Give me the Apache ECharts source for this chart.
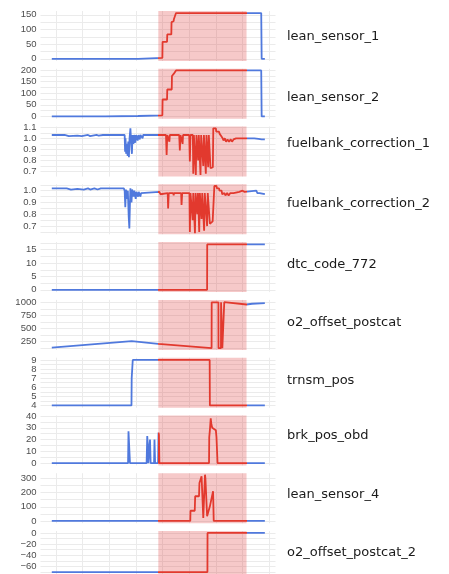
<!DOCTYPE html>
<html>
<head>
<meta charset="utf-8">
<script src="https://cdn.jsdelivr.net/npm/echarts@6/dist/echarts.min.js"></script>
<style>
  html, body { margin: 0; padding: 0; background: #fff; }
  #main { width: 449px; height: 574px; }
</style>
</head>
<body>
<div id="main"></div>
<script>
// sensor traces, x in time units, window of interest 48 - 89.4
var names = ['lean_sensor_1', 'lean_sensor_2', 'fuelbank_correction_1', 'fuelbank_correction_2',
  'dtc_code_772', 'o2_offset_postcat', 'trnsm_pos', 'brk_pos_obd', 'lean_sensor_4', 'o2_offset_postcat_2'];

var windowRange = [48, 89.4];
var xGridTicks = [0, 12.5, 25, 37.5, 50, 62.5, 75, 87.5, 100];

var leanSensor1 = [[-2,0],[38.5,0],[38.6,3],[49.9,3],[50,58],[52.1,58],[52.2,83],[54.1,83],[54.2,125],[55.2,128],[55.3,135],[56.2,135],[56.3,156],[96.3,156],[96.5,0],[98,0]];
var leanSensor2 = [[-2,0],[23,0],[23.1,2],[38.5,2],[38.6,5],[49.9,5],[50,73],[52.1,73],[52.2,116],[54.3,116],[54.4,174],[55.2,176],[55.3,184],[56.2,184],[56.3,198],[96.3,198],[96.5,0],[98,0]];
var fuelbank1 = [[-2,1.03],[4,1.03],[6,1.02],[10,1.025],[12,1.02],[15,1.03],[16,1.02],[19,1.03],[20,1.025],[22,1.03],[32.2,1.03],
  [32.4,0.88],[32.6,1.0],[32.9,0.86],[33.2,0.95],[33.6,0.84],[33.9,0.97],[34.2,0.83],[34.5,1.0],[34.9,1.09],[35.2,0.98],[35.6,0.86],[35.9,1.03],
  [36.3,0.95],[36.6,1.03],[37.2,0.96],[37.5,1.03],[38.3,0.98],[38.6,1.03],[39.3,0.99],[39.6,1.03],[40.6,1.0],[40.9,1.03],[49,1.03],[49.3,1.02],
  [50,1.03],[51.6,1.03],[51.9,0.85],[52.2,1.03],[53,1.03],[53.2,0.97],[53.4,1.03],[57.8,1.03],[58.1,0.89],[58.4,1.03],[59.2,1.03],[59.4,0.95],
  [59.6,1.03],[62.5,1.03],[62.8,0.79],[63.1,1.03],[64.2,1.03],[64.4,0.68],[64.7,1.03],[65.4,1.03],[65.6,0.67],[65.9,1.03],[66.5,1.03],[66.7,0.8],
  [67,1.03],[67.6,1.03],[67.8,0.67],[68.1,1.03],[68.9,1.03],[69.1,0.75],[69.4,1.03],[70.1,1.03],[70.3,0.68],[70.6,1.03],[71.2,1.03],[71.4,0.74],
  [71.7,1.03],[72.3,1.03],[72.5,0.73],[73.6,0.74],[73.8,1.09],[75,1.09],[75.2,1.06],[76.5,1.06],[76.8,1.04],[77.5,1.02],[78.2,1.0],[78.6,0.98],
  [79.2,1.0],[79.8,0.97],[80.5,0.99],[81.2,0.97],[82,0.99],[82.6,0.97],[83.3,0.99],[84.5,1.0],[93,1.0],[95,0.995],[96.5,0.99],[98,0.99]];
var fuelbank2 = [[-2,1.02],[5,1.02],[7,1.01],[10,1.015],[13,1.01],[15,1.02],[16,1.01],[18,1.02],[19.5,1.01],[21,1.02],[31.8,1.02],
  [32.2,1.0],[32.5,0.86],[32.8,1.01],[33.3,0.93],[33.7,1.0],[34.1,0.78],[34.4,0.68],[34.7,0.9],[34.9,1.02],[35.4,0.9],[35.7,1.01],[36.4,0.95],
  [36.7,1.0],[37.4,0.93],[37.7,0.99],[38.5,0.95],[38.8,0.99],[39.6,0.95],[39.9,0.98],[48.5,0.99],[49,0.97],[49.5,0.98],[52.4,0.98],[52.6,0.85],
  [52.9,0.98],[55,0.98],[55.2,0.96],[55.4,0.98],[58.7,0.98],[58.9,0.88],[59.2,0.98],[62.6,0.98],[62.8,0.65],[63.1,0.98],[63.9,0.98],[64.1,0.75],
  [64.4,0.98],[65,0.98],[65.2,0.64],[65.5,0.98],[66.1,0.98],[66.3,0.8],[66.6,0.98],[67,0.98],[67.2,0.65],[67.5,0.98],[68.1,0.98],[68.3,0.76],
  [68.6,0.98],[69.3,0.98],[69.5,0.66],[69.8,0.98],[70.7,0.98],[70.9,0.7],[71.2,0.98],[72,0.98],[72.2,0.72],[73.5,0.74],[74.3,1.04],[75.3,1.04],
  [75.5,1.02],[76.5,1.02],[76.7,1.0],[77.7,1.0],[78,0.97],[79,0.98],[79.5,0.96],[80.3,0.98],[81,0.96],[81.8,0.98],[82.5,0.97],[83.3,0.98],
  [84,0.99],[86,0.99],[87.5,1.0],[88.5,0.99],[94,1.0],[94.5,0.98],[95.5,0.98],[96,0.97],[98,0.97]];
var dtcCode772 = [[-2,0],[70.9,0],[70.95,17],[98,17]];
var o2OffsetPostcat = [[-2,130],[35.5,255],[48,205],[73,122],[73.05,1000],[76.2,1000],[76.25,122],[77.4,122],[77.45,1000],[78,1000],
  [78.05,122],[78.9,122],[78.95,1002],[80,1000],[89.4,958],[92,972],[98,985]];
var trnsmPos = [[-2,4],[35.4,4],[35.5,7],[35.9,7],[36,9],[72.1,9],[72.2,4],[98,4]];
var brkPosObd = [[-2,0],[33.8,0],[34,27],[34.5,26],[34.7,0],[42.5,0],[42.8,23],[43.1,15],[43.3,0],[43.9,0],[44.1,20],[44.4,0],[46,0],
  [46.2,20],[46.5,0],[47.9,0],[48.1,26],[48.3,24],[48.5,0],[71.8,0],[71.9,22],[72.2,28],[72.6,38],[72.9,33],[73.3,30],[74.2,29],[75,28],
  [75.3,22],[75.7,22],[75.8,0],[98,0]];
var leanSensor4 = [[-2,0],[63,0],[63.1,72],[65.1,72],[65.3,174],[67.1,174],[67.3,267],[68.1,270],[68.3,314],[69.1,21],[69.9,326],[70.1,300],
  [70.9,33],[72.2,103],[73.7,209],[74,0],[98,0]];
var o2OffsetPostcat2 = [[-2,-70],[71.05,-70],[71.1,0],[98,0]];

var seriesData = [leanSensor1, leanSensor2, fuelbank1, fuelbank2, dtcCode772, o2OffsetPostcat, trnsmPos, brkPosObd, leanSensor4, o2OffsetPostcat2];

var yMin = [-7.5, -10, 0.655, 0.63, -0.85, 88, 3.75, -1.93, -16, -73.5];
var yMax = [163, 205, 1.106, 1.054, 17.85, 1046, 9.25, 40.5, 336, 3.5];
var yLabels = [
  [0, 50, 100, 150],
  [0, 50, 100, 150, 200],
  [0.7, 0.8, 0.9, 1.0, 1.1],
  [0.7, 0.8, 0.9, 1.0],
  [0, 5, 10, 15],
  [250, 500, 750, 1000],
  [4, 5, 6, 7, 8, 9],
  [0, 10, 20, 30, 40],
  [0, 100, 200, 300],
  [-60, -40, -20, 0]
];
var yGrid = [
  [0, 25, 50, 75, 100, 125, 150],
  [0, 25, 50, 75, 100, 125, 150, 175, 200],
  [0.7, 0.75, 0.8, 0.85, 0.9, 0.95, 1.0, 1.05, 1.1],
  [0.65, 0.7, 0.75, 0.8, 0.85, 0.9, 0.95, 1.0, 1.05],
  [0, 2.5, 5, 7.5, 10, 12.5, 15, 17.5],
  [125, 250, 375, 500, 625, 750, 875, 1000],
  [4, 4.5, 5, 5.5, 6, 6.5, 7, 7.5, 8, 8.5, 9],
  [0, 5, 10, 15, 20, 25, 30, 35, 40],
  [0, 50, 100, 150, 200, 250, 300],
  [-70, -60, -50, -40, -30, -20, -10, 0]
];
var yDecimals = [0, 0, 1, 1, 0, 0, 0, 0, 0, 0];
// vertical centre of each right-hand label
var labelY = [37, 98, 144, 204, 265, 323, 381, 436, 495, 553];

var blue = '#5079dd';
var red = '#e2392e';

var chart = echarts.init(document.getElementById('main'));

var grids = [], xAxes = [], yAxes = [], series = [], texts = [];
var panelTop = 11, panelStep = 57.78, panelH = 50;

function yAxisFor(i, labels, withGrid) {
  return {
    type: 'value', gridIndex: i, min: yMin[i], max: yMax[i], position: 'left',
    axisLine: { show: false },
    axisTick: { show: false, customValues: withGrid ? yGrid[i] : labels },
    axisLabel: {
      customValues: labels,
      showMinLabel: true, showMaxLabel: true,
      color: '#4d4d4d', fontSize: 9.5, fontFamily: 'Liberation Sans', margin: 4,
      formatter: function (v) {
        return v.toFixed(yDecimals[i]).replace('-', '\u2212');
      }
    },
    splitLine: { show: withGrid, lineStyle: { color: '#ebebeb', width: 1 } }
  };
}

names.forEach(function (name, i) {
  var top = panelTop + panelStep * i;
  grids.push({ left: 40.5, width: 235, top: top, height: panelH });
  xAxes.push({
    type: 'value', gridIndex: i, min: -7.3, max: 103,
    axisLine: { show: false },
    axisTick: { show: false, customValues: xGridTicks },
    axisLabel: { show: false },
    splitLine: { show: true, lineStyle: { color: '#ebebeb', width: 1 } }
  });
  // labels split over two stacked axes so close ticks are not dropped
  var evenLabels = yLabels[i].filter(function (v, k) { return k % 2 === 0; });
  var oddLabels = yLabels[i].filter(function (v, k) { return k % 2 === 1; });
  yAxes.push(yAxisFor(i, evenLabels, true));
  yAxes.push(yAxisFor(i, oddLabels, false));
  series.push({
    name: name, type: 'line', xAxisIndex: i, yAxisIndex: 2 * i,
    data: seriesData[i], showSymbol: false, animation: false,
    lineStyle: { width: 1.8 },
    markArea: {
      silent: true,
      itemStyle: { color: 'rgba(222, 60, 60, 0.28)' },
      data: [[{ xAxis: windowRange[0] }, { xAxis: windowRange[1] }]]
    }
  });
  texts.push({
    type: 'text', x: 287, y: labelY[i],
    style: { text: name, font: '13px "DejaVu Sans"', fill: '#1a1a1a', verticalAlign: 'middle' }
  });
});

var option = {
  backgroundColor: '#ffffff',
  animation: false,
  grid: grids,
  xAxis: xAxes,
  yAxis: yAxes,
  visualMap: {
    show: false,
    type: 'piecewise',
    dimension: 0,
    seriesIndex: names.map(function (n, i) { return i; }),
    pieces: [
      { lt: windowRange[0], color: blue },
      { gte: windowRange[0], lte: windowRange[1], color: red },
      { gt: windowRange[1], color: blue }
    ]
  },
  graphic: texts,
  series: series
};

chart.setOption(option);
</script>
</body>
</html>
